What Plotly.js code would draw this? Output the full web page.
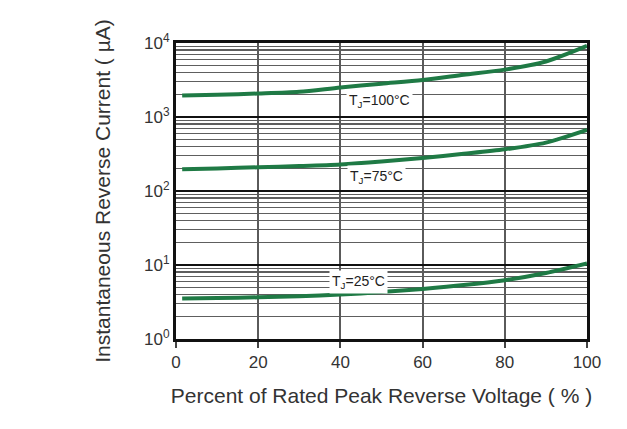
<!DOCTYPE html>
<html>
<head>
<meta charset="utf-8">
<script src="https://cdn.plot.ly/plotly-3.0.1.min.js"></script>
<style>html,body{margin:0;padding:0;background:#fff;}#chart{width:627px;height:429px;}</style>
</head>
<body>
<div id="chart"></div>
<script>
// Percent of rated peak reverse voltage (%)
const voltagePct = [1.5, 10, 20, 30, 40, 50, 60, 70, 80, 90, 100];
// Instantaneous reverse current (µA) per junction temperature
const current100C = [1945, 2000, 2075, 2190, 2510, 2820, 3160, 3720, 4365, 5620, 9120];
const current75C  = [197, 202, 209, 217, 228, 250, 280, 318, 366, 451, 670];
const current25C  = [3.52, 3.58, 3.66, 3.78, 3.98, 4.3, 4.75, 5.35, 6.24, 7.8, 10.5];
const seriesLabels = ['T<sub>J</sub>=100°C', 'T<sub>J</sub>=75°C', 'T<sub>J</sub>=25°C'];
const labelX = [49.6, 48.7, 44.5];
const labelY = [1630, 157, 5.9];
const xTicks = [0, 20, 40, 60, 80, 100];
const yTickExp = [0, 1, 2, 3, 4];
const yTickText = yTickExp.map(e => '10<sup>' + e + '</sup>');

const green = '#1f7a45';
const font = 'Liberation Sans, Arial, sans-serif';
const mk = (y) => ({x: voltagePct, y: y, mode: 'lines', line: {color: green, width: 4, shape: 'spline', smoothing: 0.8}, hoverinfo: 'skip', showlegend: false});

const data = [mk(current100C), mk(current75C), mk(current25C)];

const annotations = seriesLabels.map((t, i) => ({
  x: labelX[i], y: Math.log10(labelY[i]), xref: 'x', yref: 'y',
  text: t, showarrow: false, bgcolor: '#ffffff',
  font: {family: font, size: 14, color: '#222'}, borderpad: 2
}));

const layout = {
  width: 627, height: 429,
  margin: {l: 176, r: 40, t: 43, b: 90},
  paper_bgcolor: '#fff', plot_bgcolor: '#fff',
  font: {family: font, color: '#333'},
  xaxis: {
    range: [0, 100], tickvals: xTicks, ticktext: xTicks.map(String),
    showgrid: true, gridcolor: '#5a5a5a', gridwidth: 2,
    showline: true, mirror: true, linecolor: '#111', linewidth: 3,
    ticks: 'outside', ticklen: 6, tickwidth: 2, tickcolor: '#444',
    tickfont: {size: 17, color: '#333'}, zeroline: false,
    title: {text: 'Percent of Rated Peak Reverse Voltage ( % )', font: {size: 21, color: '#333'}, standoff: 17}
  },
  yaxis: {
    type: 'log', range: [0, 4], tickvals: yTickExp.map(e => Math.pow(10, e)), ticktext: yTickText,
    showgrid: true, gridcolor: '#111', gridwidth: 2.5,
    minor: {dtick: 'D1', showgrid: true, gridcolor: '#5e5e5e', gridwidth: 1.4, ticks: ''},
    showline: true, mirror: true, linecolor: '#111', linewidth: 3,
    ticks: '', tickfont: {size: 17, color: '#333'}, zeroline: false,
    title: {text: 'Instantaneous Reverse Current ( µA)', font: {size: 21, color: '#333'}, standoff: 28}
  },
  annotations: annotations
};

Plotly.newPlot('chart', data, layout, {displayModeBar: false, staticPlot: true});
</script>
</body>
</html>
